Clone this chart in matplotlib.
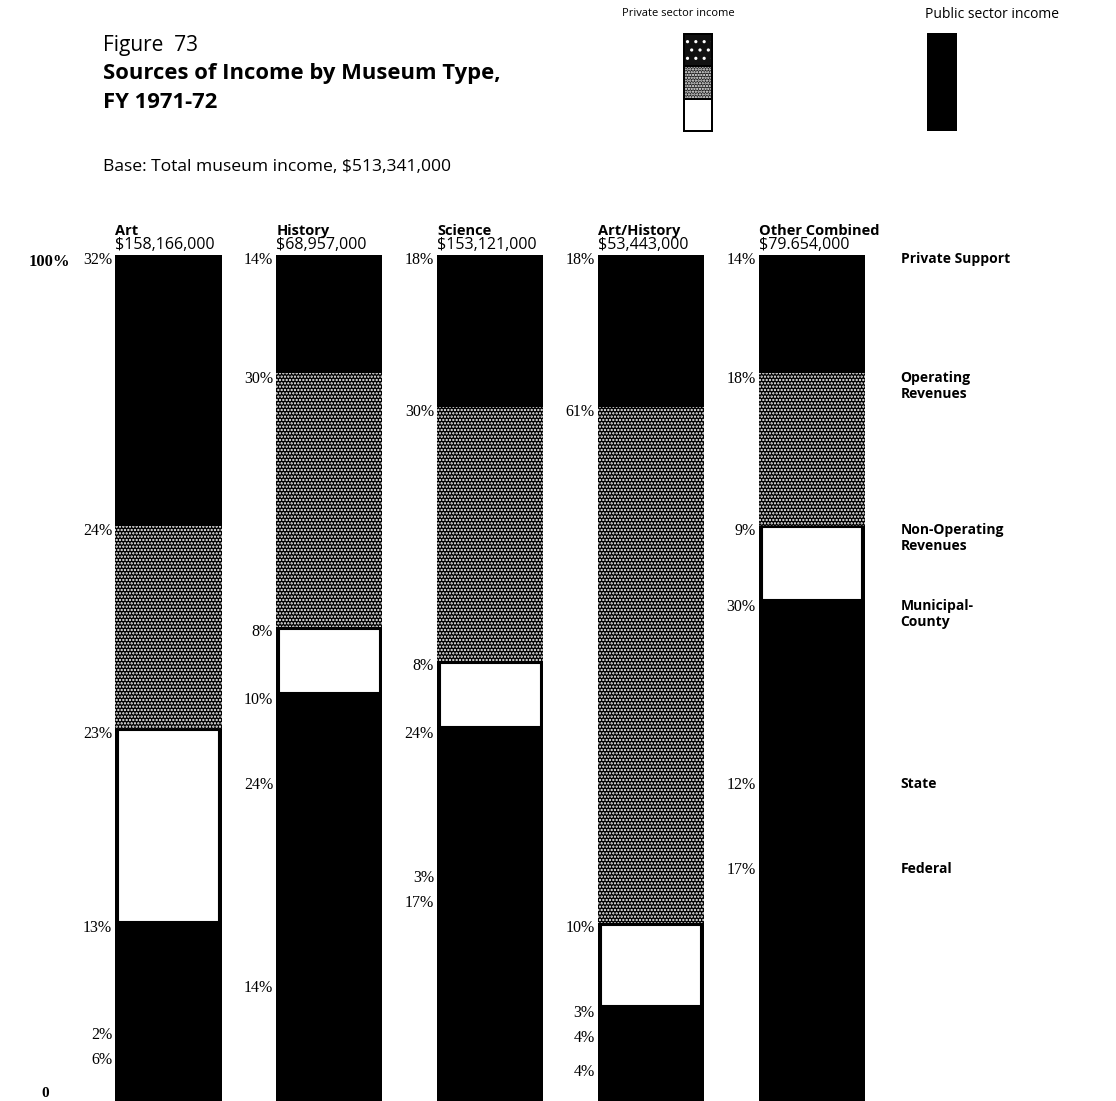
import matplotlib
matplotlib.use("Agg")
import matplotlib.pyplot as plt
from matplotlib.patches import Rectangle

# data (percent of each museum type's income)
museum_types = ["Art", "History", "Science", "Art/History", "Other Combined"]
type_totals = ["$158,166,000", "$68,957,000", "$153,121,000", "$53,443,000", "$79.654,000"]
sources = ["Private Support", "Operating\nRevenues", "Non-Operating\nRevenues",
           "Municipal-\nCounty", "State", "Federal"]
private_support = [32, 14, 18, 18, 14]
operating_rev = [24, 30, 30, 61, 18]
non_operating_rev = [23, 8, 8, 10, 9]
municipal_county = [13, 10, 24, 3, 30]
state = [2, 24, 3, 4, 12]
federal = [6, 14, 17, 4, 17]
series = [private_support, operating_rev, non_operating_rev,
          municipal_county, state, federal]

# labels sitting inside the solid black public part are not at the segment
# boundary in the original; (series index, bar index) -> label height
label_moves = {(4, 0): 7.8, (5, 0): 4.9, (4, 2): 26.4, (5, 2): 23.4,
               (4, 4): 37.4, (5, 4): 27.3}

sans = ["Open Sans", "DejaVu Sans"]
serif = ["Liberation Serif", "DejaVu Serif"]

# fill styles
styles = [
    dict(color="black"),
    dict(facecolor="black", edgecolor="white", hatch=".....", linewidth=0),
    dict(facecolor="white", edgecolor="black", linewidth=1.5),
    dict(color="black"),
    dict(color="black"),
    dict(color="black"),
]
plt.rcParams["hatch.linewidth"] = 1.1

fig = plt.figure(figsize=(11.16, 11.01), dpi=100)
ax = fig.add_axes([0, 0, 1, 1 - 255 / 1101])
ax.set_xlim(-1.047, 5.889)
ax.set_ylim(0, 100)
ax.axis("off")

x = list(range(len(museum_types)))
width = 0.66
top = [100] * len(x)
label_y = [[0] * len(x) for _ in series]
for s, vals in enumerate(series):
    bottoms = [t - v for t, v in zip(top, vals)]
    if s == 2:
        # the white block is drawn slightly inside the black column
        ax.bar(x, vals, width=width, bottom=bottoms, color="black", linewidth=0)
        ax.bar(x, [v - 0.4 for v in vals], width=width - 0.035,
               bottom=[b + 0.2 for b in bottoms], **styles[s])
    else:
        ax.bar(x, vals, width=width, bottom=bottoms, **styles[s])
    for i in x:
        label_y[s][i] = label_moves.get((s, i), top[i] - 0.6)
        ax.text(i - width / 2 - 0.02, label_y[s][i], f"{vals[i]}%",
                ha="right", va="center", fontsize=11.5, family=serif)
    top = bottoms

# column heads
for i in x:
    ax.text(i - width / 2, 102.0, museum_types[i], ha="left", va="bottom",
            fontsize=10.5, fontweight="bold", family=sans)
    ax.text(i - width / 2, 100.2, type_totals[i], ha="left", va="bottom",
            fontsize=11.5, family=sans)

# source names to the right of the last column
for s, name in enumerate(sources):
    ax.text(x[-1] + width / 2 + 0.22, label_y[s][-1] + 0.9, name, ha="left", va="top",
            fontsize=10, fontweight="bold", family=sans, linespacing=1.15)

ax.text(-0.743, 99.2, "100%", ha="center", va="center", fontsize=12,
        fontweight="bold", family=serif)
ax.text(-0.765, 0.1, "0", ha="center", va="bottom", fontsize=11,
        fontweight="bold", family=serif)

# titles
fig.text(103 / 1116, 1 - 45 / 1101, "Figure  73", fontsize=15, family=sans, va="center")
fig.text(103 / 1116, 1 - 74 / 1101, "Sources of Income by Museum Type,", fontsize=15.8,
         fontweight="bold", family=sans, va="center")
fig.text(103 / 1116, 1 - 103 / 1101, "FY 1971-72", fontsize=15.8,
         fontweight="bold", family=sans, va="center")
fig.text(103 / 1116, 1 - 167 / 1101, "Base: Total museum income, $513,341,000",
         fontsize=12.6, family=sans, va="center")

# legend keys
fig.text(622 / 1116, 1 - 14 / 1101, "Private sector income", fontsize=8,
         family=sans, va="center")
fig.text(925 / 1116, 1 - 14 / 1101, "Public sector income", fontsize=10,
         family=sans, va="center")

leg = fig.add_axes([683 / 1116, 1 - 132 / 1101, 30 / 1116, 99 / 1101])
leg.set_xlim(0, 1)
leg.set_ylim(0, 3)
leg.axis("off")
leg.add_patch(Rectangle((0, 0), 1, 3, color="black"))
leg.add_patch(Rectangle((0.08, 2.04), 0.84, 0.9, facecolor="#111111",
                        edgecolor="white", hatch="..", linewidth=0))
leg.add_patch(Rectangle((0.08, 1.04), 0.84, 0.92, facecolor="#222222",
                        edgecolor="white", hatch="......", linewidth=0))
leg.add_patch(Rectangle((0.08, 0.05), 0.84, 0.92, facecolor="white", linewidth=0))

pub = fig.add_axes([927 / 1116, 1 - 131 / 1101, 30 / 1116, 98 / 1101])
pub.axis("off")
pub.add_patch(Rectangle((0, 0), 1, 1, color="black"))

fig.savefig("out.png", dpi=100)
